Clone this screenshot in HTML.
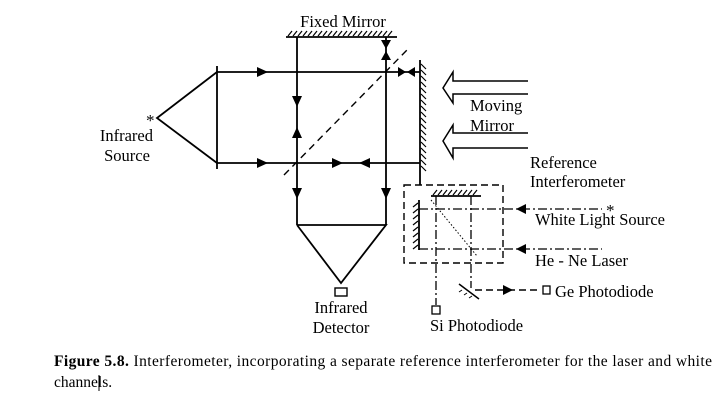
<!DOCTYPE html>
<html><head><style>
body{margin:0;background:#fff;}
svg{display:block}
text{font-family:"Liberation Serif",serif;fill:#000}
</style></head><body>
<svg width="720" height="419" viewBox="0 0 720 419" xmlns="http://www.w3.org/2000/svg">
<g stroke="#000" stroke-width="1.8" fill="none">
<line x1="286" y1="37" x2="397" y2="37"/>
<path d="M288 36 l4 -5 M293 36 l4 -5 M298 36 l4 -5 M303 36 l4 -5 M308 36 l4 -5 M313 36 l4 -5 M318 36 l4 -5 M323 36 l4 -5 M328 36 l4 -5 M333 36 l4 -5 M338 36 l4 -5 M343 36 l4 -5 M348 36 l4 -5 M353 36 l4 -5 M358 36 l4 -5 M363 36 l4 -5 M368 36 l4 -5 M373 36 l4 -5 M378 36 l4 -5 M383 36 l4 -5 M388 36 l4 -5" stroke-width="1.2"/>
<polyline points="217,72 157,118 217,163"/>
<line x1="217" y1="66" x2="217" y2="169"/>
<line x1="217" y1="72" x2="420" y2="72"/>
<line x1="217" y1="163" x2="420" y2="163"/>
<line x1="297" y1="37" x2="297" y2="225"/>
<line x1="386" y1="37" x2="386" y2="225"/>
<polyline points="297,225 386,225 341,283 297,225"/>
<rect x="335" y="288" width="12" height="8" stroke-width="1.4"/>
<line x1="420" y1="60" x2="420" y2="185"/>
<path d="M421 64 l5 5 M421 70 l5 5 M421 76 l5 5 M421 82 l5 5 M421 88 l5 5 M421 94 l5 5 M421 100 l5 5 M421 106 l5 5 M421 112 l5 5 M421 118 l5 5 M421 124 l5 5 M421 130 l5 5 M421 136 l5 5 M421 142 l5 5 M421 148 l5 5 M421 154 l5 5 M421 160 l5 5 M421 166 l5 5" stroke-width="1.2"/>
<line x1="284" y1="175" x2="407" y2="50" stroke-dasharray="7,5" stroke-width="1.4"/>
<path d="M528 81 H453 V72 L443 88 L453 103 V94 H528" stroke-width="1.5"/>
<path d="M528 133 H453 V125 L443 141 L453 158 V148 H528" stroke-width="1.5"/>
<rect x="404" y="185" width="99" height="78" stroke-dasharray="7,4" stroke-width="1.4"/>
<line x1="419" y1="200" x2="419" y2="250"/>
<path d="M418 203 l-5 4 M418 209 l-5 4 M418 215 l-5 4 M418 221 l-5 4 M418 227 l-5 4 M418 233 l-5 4 M418 239 l-5 4 M418 245 l-5 4" stroke-width="1.2"/>
<line x1="431" y1="196" x2="481" y2="196"/>
<path d="M433 195 l4 -5 M438 195 l4 -5 M443 195 l4 -5 M448 195 l4 -5 M453 195 l4 -5 M458 195 l4 -5 M463 195 l4 -5 M468 195 l4 -5 M473 195 l4 -5" stroke-width="1.2"/>
<g stroke-dasharray="9,3,2,3" stroke-width="1.3">
<line x1="419" y1="209" x2="602" y2="209"/>
<line x1="419" y1="249" x2="602" y2="249"/>
<line x1="436" y1="196" x2="436" y2="305"/>
<line x1="471" y1="196" x2="471" y2="288"/>
</g>
<line x1="431" y1="200" x2="477" y2="256" stroke-dasharray="1.5,2" stroke-width="1"/>
<line x1="459" y1="284" x2="479" y2="299" stroke-width="1.5"/>
<path d="M462 290 l-3 2 M467 293 l-3 2 M472 296 l-3 2" stroke-width="1"/>
<line x1="475" y1="290" x2="540" y2="290" stroke-dasharray="7,4" stroke-width="1.4"/>
<rect x="543" y="286" width="7" height="8" stroke-width="1.3"/>
<rect x="432" y="306" width="8" height="8" stroke-width="1.3"/>
<line x1="99" y1="375" x2="99" y2="391" stroke-width="1"/>
</g>
<g fill="#000">
<polygon points="257,67 257,77 268,72"/>
<polygon points="257,158 257,168 268,163"/>
<polygon points="332,158 332,168 343,163"/>
<polygon points="370,158 370,168 359,163"/>
<polygon points="292,96 302,96 297,107"/>
<polygon points="292,138 302,138 297,127"/>
<polygon points="292,188 302,188 297,199"/>
<polygon points="381,188 391,188 386,199"/>
<polygon points="381,40 391,40 386,49"/>
<polygon points="381,60 391,60 386,51"/>
<polygon points="398,67 398,77 406,72"/>
<polygon points="415,67 415,77 407,72"/>
<polygon points="526,204 526,214 516,209"/>
<polygon points="526,244 526,254 516,249"/>
<polygon points="503,285 503,295 513,290"/>
</g>
<g font-size="16.5">
<text x="343" y="27" text-anchor="middle">Fixed Mirror</text>
<text x="153" y="141" text-anchor="end">Infrared</text>
<text x="127" y="161" text-anchor="middle">Source</text>
<text x="146" y="126" font-size="17">*</text>
<text x="341" y="313" text-anchor="middle">Infrared</text>
<text x="341" y="333" text-anchor="middle">Detector</text>
<text x="470" y="111">Moving</text>
<text x="470" y="131">Mirror</text>
<text x="530" y="168">Reference</text>
<text x="530" y="187">Interferometer</text>
<text x="606" y="216" font-size="17">*</text>
<text x="535" y="225" textLength="130" lengthAdjust="spacingAndGlyphs">White Light Source</text>
<text x="535" y="266">He - Ne Laser</text>
<text x="555" y="297">Ge Photodiode</text>
<text x="430" y="331">Si Photodiode</text>
</g>
<g font-size="15.5">
<text x="54" y="366" textLength="658" lengthAdjust="spacing"><tspan font-weight="bold">Figure 5.8.</tspan> Interferometer, incorporating a separate reference interferometer for the laser and white</text>
<text x="54" y="387">channels.</text>
</g>
</svg>
</body></html>
